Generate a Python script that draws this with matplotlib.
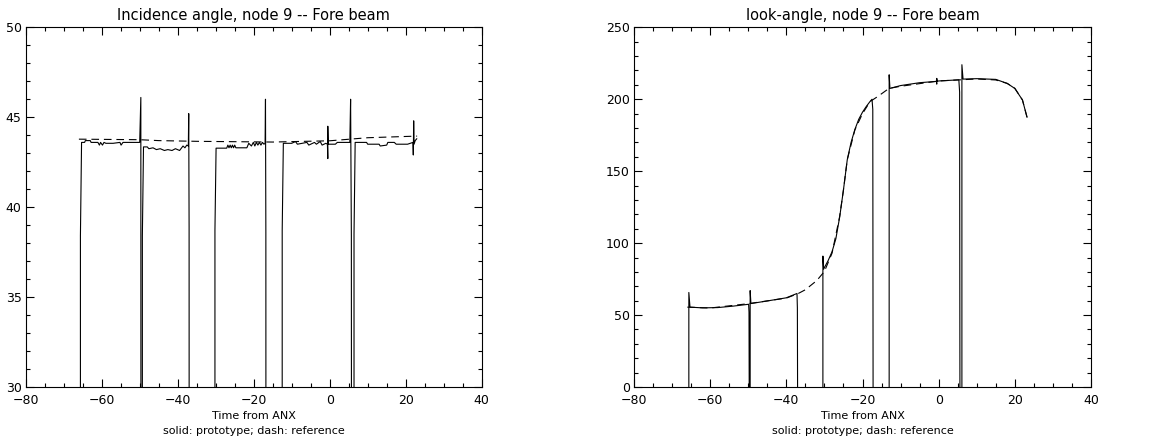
import numpy as np
import matplotlib
matplotlib.use('Agg')
import matplotlib.pyplot as plt
from matplotlib.ticker import MultipleLocator

plt.rcParams['font.family'] = 'DejaVu Sans'
plt.rcParams['lines.scale_dashes'] = False

GAP = -50  # fill value where the prototype has no data (off the bottom of both plots)

# incidence angle, prototype (solid)
inc_t = [-65.6, -65.6, -65.3, -64.5, -64.3, -63.0, -62.8, -61.0, -60.6, -60.3, -59.8, -59.4,
         -58.9, -57.0, -55.2, -54.9, -54.4, -50.0, -49.7, -49.6,
         -49.3, -49.3, -49.0, -48.0, -47.6, -46.5, -45.6, -44.6, -43.5, -42.6, -41.5, -40.6,
         -39.5, -38.6, -38.1, -37.6, -37.2, -37.1, -37.0, -36.9,
         -30.2, -30.2, -29.9, -27.1, -26.8, -26.5, -26.2, -25.9, -25.6, -25.3, -25.0, -24.7, -24.0,
         -21.8, -21.3, -20.6, -20.1, -19.7, -19.3, -18.9, -18.5, -18.1, -17.7, -17.3, -17.0,
         -16.9, -16.8, -16.7,
         -12.5, -12.5, -12.2, -10.0, -9.0, -8.5, -6.0, -5.5, -4.0, -3.5, -2.5, -2.0, -1.0,
         -0.6, -0.5, -0.5, -0.4, 1.5, 2.0, 5.3, 5.5, 5.7, 5.9,
         6.4, 6.4, 6.7, 9.7, 10.0, 13.0, 13.3, 15.0, 15.3, 17.0, 17.5, 20.5, 21.9, 22.0, 22.1,
         22.2, 22.5, 22.9]
inc_v = [GAP, 38.4, 43.6, 43.6, 43.7, 43.7, 43.6, 43.6, 43.45, 43.6, 43.45, 43.6,
         43.55, 43.55, 43.6, 43.45, 43.6, 43.6, 46.1, GAP,
         GAP, 38.4, 43.35, 43.35, 43.25, 43.3, 43.2, 43.25, 43.15, 43.2, 43.15, 43.25,
         43.15, 43.4, 43.3, 43.45, 43.4, 45.2, 38.9, GAP,
         GAP, 38.7, 43.28, 43.28, 43.45, 43.3, 43.45, 43.3, 43.45, 43.3, 43.45, 43.3, 43.3,
         43.3, 43.55, 43.4, 43.6, 43.4, 43.6, 43.45, 43.6, 43.45, 43.6, 43.5, 43.55,
         46.0, 38.6, GAP,
         GAP, 38.7, 43.55, 43.55, 43.65, 43.5, 43.6, 43.45, 43.6, 43.5, 43.65, 43.45, 43.55,
         43.5, 42.7, 44.5, 43.5, 43.5, 43.6, 43.6, 46.0, 38.4, GAP,
         GAP, 38.5, 43.6, 43.6, 43.5, 43.5, 43.4, 43.45, 43.6, 43.6, 43.5, 43.5, 43.6, 42.9, 44.8,
         43.5, 43.7, 43.8]

# incidence angle, reference (dash)
inc_ref_t = [-66.0, -50.0, -45.0, -35.0, -30.0, -15.0, 0.0, 10.0, 20.0, 23.0]
inc_ref_v = [43.78, 43.75, 43.70, 43.66, 43.65, 43.62, 43.69, 43.86, 43.93, 43.95]

# look angle, prototype (solid)
look_t = [-65.6, -65.6, -65.3, -62.0, -58.0, -54.0, -49.9, -49.8, -49.7,
          -49.5, -49.5, -49.3, -45.0, -40.0, -37.2, -37.1, -37.0,
          -30.4, -30.4, -30.2, -29.0, -28.0, -27.0, -26.0, -25.0, -24.0, -23.0, -22.0, -21.0,
          -20.0, -19.0, -18.0, -17.5, -17.3, -17.2,
          -13.0, -13.0, -12.8, -10.0, -5.0, -0.6, -0.5, -0.5, -0.4, 0.0, 5.3, 5.5, 5.6,
          6.1, 6.1, 6.4, 10.0, 15.0, 18.0, 20.0, 22.0, 23.2]
look_v = [GAP, 65.7, 55.5, 55.0, 55.2, 56.2, 57.5, 52.0, GAP,
          GAP, 67.0, 58.0, 59.8, 62.0, 65.0, 55.0, GAP,
          GAP, 91.0, 82.0, 88.0, 94.0, 103.0, 118.0, 137.0, 158.0, 170.0, 179.0, 186.0,
          191.0, 195.0, 198.5, 200.0, 193.0, GAP,
          GAP, 217.0, 207.5, 209.5, 211.5, 212.4, 210.5, 214.5, 212.5, 212.7, 213.5, 205.0, GAP,
          GAP, 224.0, 214.0, 214.3, 213.8, 211.0, 207.5, 199.5, 187.5]

# look angle, reference (dash)
look_ref_t = [-66.0, -60.0, -50.0, -40.0, -37.0, -35.0, -32.0, -30.0, -28.0, -26.0, -25.0,
              -24.0, -22.0, -20.0, -18.0, -16.0, -13.0, -10.0, 0.0, 5.0, 10.0, 15.0, 18.0,
              20.0, 22.0, 23.2]
look_ref_v = [55.5, 54.9, 57.9, 61.8, 64.8, 67.6, 74.0, 80.3, 93.0, 118.5, 137.0,
              158.0, 178.7, 190.0, 198.4, 201.9, 207.6, 209.0, 212.7, 213.4, 214.1, 213.4, 211.0,
              207.6, 199.5, 187.5]

W, H = 1159, 444
fig = plt.figure(figsize=(W / 100, H / 100), dpi=100, facecolor='white')

panels = [
    (25.7, 481.7, inc_t, inc_v, inc_ref_t, inc_ref_v, (30, 50), 5, 1,
     'Incidence angle, node 9 -- Fore beam'),
    (634.0, 1091.0, look_t, look_v, look_ref_t, look_ref_v, (0, 250), 50, 10,
     'look-angle, node 9 -- Fore beam'),
]

for x0, x1, t, v, rt, rv, ylim, ymaj, ymin, title in panels:
    ax = fig.add_axes([x0 / W, 1 - 387 / H, (x1 - x0) / W, (387 - 27.3) / H])
    ax.plot(rt, rv, color='black', lw=0.8, dashes=(5.5, 3.5))
    ax.plot(t, v, color='black', lw=0.8)
    ax.set_xlim(-80, 40)
    ax.set_ylim(*ylim)
    ax.xaxis.set_major_locator(MultipleLocator(20))
    ax.xaxis.set_minor_locator(MultipleLocator(5))
    ax.yaxis.set_major_locator(MultipleLocator(ymaj))
    ax.yaxis.set_minor_locator(MultipleLocator(ymin))
    ax.tick_params(which='both', direction='in', top=True, right=True,
                   labelsize=9, width=0.8, pad=5)
    ax.tick_params(axis='y', which='both', pad=3)
    ax.tick_params(which='major', length=6)
    ax.tick_params(which='minor', length=3)
    for s in ax.spines.values():
        s.set_linewidth(0.8)
    ax.set_title(title, fontsize=10.5, pad=5)
    ax.set_xlabel('Time from ANX\nsolid: prototype; dash: reference',
                  fontsize=8, linespacing=1.55, labelpad=3)

fig.savefig('out.png', dpi=100, facecolor='white')
